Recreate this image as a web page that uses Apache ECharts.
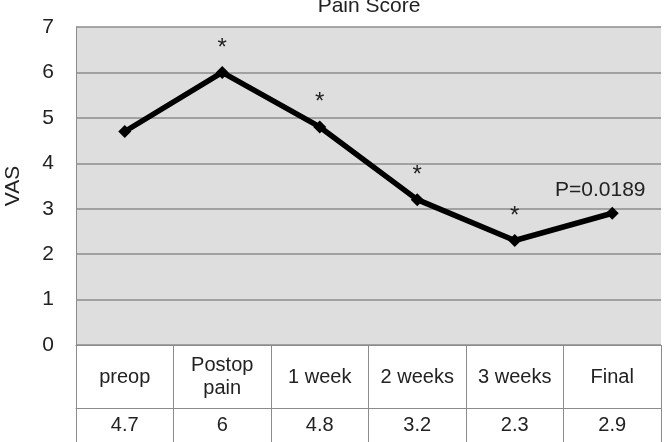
<!DOCTYPE html>
<html>
<head>
<meta charset="utf-8">
<script src="https://cdn.jsdelivr.net/npm/echarts@6/dist/echarts.min.js"></script>
<style>
    html, body { margin: 0; padding: 0; background: #fff; }
    #main { width: 668px; height: 442px; }
</style>
</head>
<body>
<div id="main"></div>
<script>
// 时间点
var categories = ['preop', 'Postop\npain', '1 week', '2 weeks', '3 weeks', 'Final'];
// VAS 评分
var vasScores = [4.7, 6, 4.8, 3.2, 2.3, 2.9];
// 点上方的标注
var marks = ['', '*', '*', '*', '*', 'P=0.0189'];
var yTicks = [0, 1, 2, 3, 4, 5, 6, 7];

var font = '"Liberation Sans", Arial, sans-serif';
var gray = '#8c8c8c';

var myChart = echarts.init(document.getElementById('main'));
var option = {
    animation: false,
    backgroundColor: '#ffffff',
    title: {
        text: 'Pain Score',
        left: 364,
        textAlign: 'center',
        top: -9,
        textStyle: { fontFamily: font, fontSize: 21, fontWeight: 'normal', color: '#222' }
    },
    grid: {
        left: 76,
        right: 7,
        top: 27,
        bottom: 97,
        outerBoundsMode: 'none',
        containLabel: false,
        show: true,
        backgroundColor: '#dedede',
        borderWidth: 0
    },
    xAxis: [{
        type: 'category',
        data: categories,
        position: 'bottom',
        axisLine: { show: true, lineStyle: { color: gray, width: 1 } },
        axisTick: { show: true, length: 100, lineStyle: { color: gray, width: 1 } },
        axisLabel: {
            interval: 0,
            margin: 32,
            verticalAlign: 'middle',
            fontFamily: font,
            fontSize: 20,
            lineHeight: 23,
            color: '#222'
        }
    }, {
        type: 'category',
        data: vasScores.map(function (v) { return String(v); }),
        position: 'bottom',
        offset: 63,
        axisLine: { show: true, lineStyle: { color: gray, width: 1 } },
        axisTick: { show: false },
        axisLabel: {
            interval: 0,
            margin: 17,
            verticalAlign: 'middle',
            fontFamily: font,
            fontSize: 20,
            color: '#222'
        }
    }],
    yAxis: {
        type: 'value',
        min: 0,
        max: 7,
        interval: 1,
        name: 'VAS',
        nameLocation: 'middle',
        nameGap: 52,
        nameRotate: 90,
        nameTextStyle: { fontFamily: font, fontSize: 21, color: '#222' },
        axisLine: { show: true, lineStyle: { color: gray } },
        axisTick: { show: false },
        axisLabel: {
            margin: 22,
            fontFamily: font,
            fontSize: 21,
            color: '#222',
            formatter: function (v) { return yTicks.indexOf(v) >= 0 ? String(v) : ''; }
        },
        splitLine: { show: true, lineStyle: { color: gray, width: 1.5 } }
    },
    series: [{
        type: 'line',
        data: vasScores,
        symbol: 'diamond',
        symbolSize: 13,
        lineStyle: { color: '#000', width: 5.5 },
        itemStyle: { color: '#000' },
        label: {
            show: true,
            position: 'top',
            distance: 6,
            fontFamily: font,
            fontSize: 24,
            color: '#222',
            formatter: function (p) { return marks[p.dataIndex]; }
        }
    }]
};
myChart.setOption(option);
// 最后一个点的 P 值标注稍微左移
myChart.setOption({
    series: [{
        data: vasScores.map(function (v, i) {
            return i === vasScores.length - 1
                ? { value: v, label: { fontSize: 21, offset: [-12, 0] } }
                : v;
        })
    }]
});
</script>
</body>
</html>
